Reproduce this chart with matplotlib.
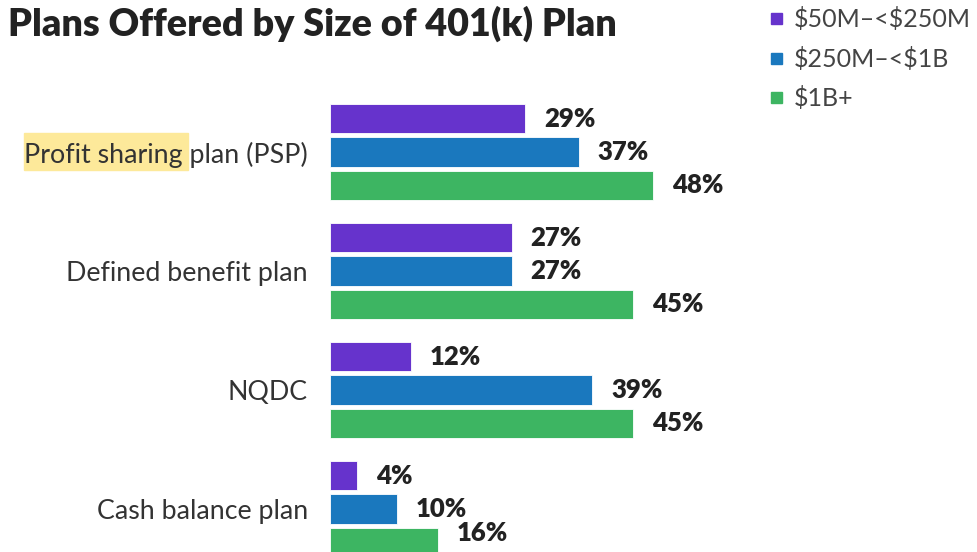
import numpy as np
import matplotlib.pyplot as plt
from matplotlib.patches import Rectangle

categories = ["Profit sharing plan (PSP)", "Defined benefit plan", "NQDC", "Cash balance plan"]
series_names = [r"\$50M–<\$250M", r"\$250M–<\$1B", r"\$1B+"]
small = [29, 27, 12, 4]
mid = [37, 27, 39, 10]
large = [48, 45, 45, 16]
colors = ["#6633cc", "#1a78be", "#3db562"]

plt.rcParams['font.family'] = ['Lato', 'DejaVu Sans']

W, H = 977, 552
fig = plt.figure(figsize=(W / 100, H / 100), dpi=100)
ax = fig.add_axes([330 / W, 0, 1 - 330 / W, 1])

y = np.arange(len(categories))
off = 0.2815
bh = 0.252
ybottom = (H - 152) / 119
for k, vals in enumerate([small, mid, large]):
    pos = y + (k - 1) * off
    ax.barh(pos, vals, height=bh, color=colors[k], edgecolor="white", linewidth=0.6)
    for p, v in zip(pos, vals):
        # keep the last label inside the figure
        ax.text(v + 2.8, min(p, ybottom - 0.16), f"{v}%", va="center", ha="left",
                fontsize=18.5, fontweight="heavy", color="#222222")

ax.set_xlim(0, (W - 330) / 6.73)
ax.set_ylim(ybottom, -152 / 119)
ax.set_yticks(y)
ax.set_yticklabels(categories, fontsize=19.3, color="#333333")
ax.tick_params(axis="y", length=0, pad=16)
ax.set_xticks([])
for s in ax.spines.values():
    s.set_visible(False)

# highlight behind "Profit sharing"
fig.patches.append(Rectangle((24 / W, 1 - 170 / H), 164 / W, 37 / H,
                             transform=fig.transFigure, color="#fde99a", zorder=-1))

fig.text(8 / W, 1 - 6 / H, "Plans Offered by Size of 401(k) Plan", ha="left", va="top",
         fontsize=27.2, fontweight="heavy", color="#222222")

for k, name in enumerate(series_names):
    yy = 1 - (19 + k * 39.5) / H
    fig.patches.append(Rectangle((771 / W, yy - 5 / H), 11 / W, 11 / H,
                                 transform=fig.transFigure, color=colors[k]))
    fig.text(794 / W, yy, name, ha="left", va="center", fontsize=18, color="#444444")

fig.savefig("out.png", dpi=100)
